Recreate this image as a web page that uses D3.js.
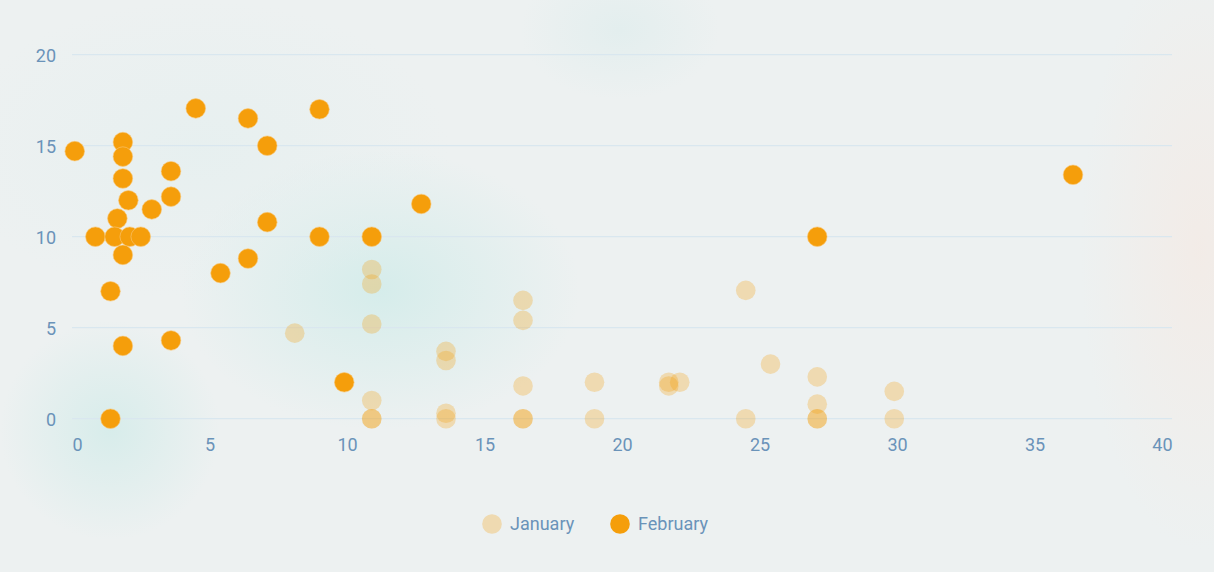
<!DOCTYPE html>
<html><head><meta charset="utf-8">
<script src="https://cdn.jsdelivr.net/npm/d3@7"></script>
<style>
html,body{margin:0;padding:0;background:#edf0f0;overflow:hidden}
svg{display:block}
text{font-family:Roboto,"Noto Sans",sans-serif}
</style></head><body>
<svg id="c" width="1214" height="572"></svg>
<script>
const seriesNames = ["January", "February"];
const januaryX = [8.1, 10.9, 10.9, 10.9, 10.9, 10.9, 10.9, 13.6, 13.6, 13.6, 13.6, 16.4, 16.4, 16.4, 16.4, 16.4, 19, 19, 21.7, 21.7, 22.1, 24.5, 24.5, 25.4, 27.1, 27.1, 27.1, 27.1, 29.9, 29.9];
const januaryY = [4.7, 8.2, 7.4, 5.2, 1, 0, 0, 3.7, 3.2, 0.3, 0, 6.5, 5.4, 1.8, 0, 0, 2, 0, 1.8, 2.0, 2.0, 7.05, 0, 3, 2.3, 0.8, 0, 0, 1.5, 0];
const februaryX = [0.1, 1.85, 1.85, 1.85, 2.05, 2.9, 3.6, 3.6, 4.5, 6.4, 9, 7.1, 1.65, 0.85, 1.55, 2.1, 2.5, 1.85, 7.1, 9, 10.9, 12.7, 6.4, 5.4, 1.4, 1.85, 3.6, 1.4, 9.9, 36.4, 27.1];
const februaryY = [14.7, 15.2, 14.4, 13.2, 12, 11.5, 13.6, 12.2, 17.05, 16.5, 17, 15, 11, 10, 10, 10, 10, 9, 10.8, 10, 10, 11.8, 8.8, 8, 7, 4, 4.3, 0, 2, 13.4, 10];
const xTicks = [0, 5, 10, 15, 20, 25, 30, 35, 40];
const yTicks = [0, 5, 10, 15, 20];

const svg = d3.select("#c");
const W = 1214, H = 572;
const defs = svg.append("defs");
function blob(id, color, op) {
  const g = defs.append("radialGradient").attr("id", id);
  g.append("stop").attr("offset", "0%").attr("stop-color", color).attr("stop-opacity", op);
  g.append("stop").attr("offset", "100%").attr("stop-color", color).attr("stop-opacity", 0);
}
blob("b1", "#d3ecea", 0.9);
blob("b2", "#d5ecea", 0.9);
blob("b3", "#dcecec", 0.6);
blob("b4", "#f3ebe6", 0.9);
blob("b5", "#e4efef", 0.7);
svg.append("rect").attr("width", W).attr("height", H).attr("fill", "#edf1f1");
svg.append("ellipse").attr("cx", 380).attr("cy", 290).attr("rx", 200).attr("ry", 140).attr("fill", "url(#b1)");
svg.append("ellipse").attr("cx", 110).attr("cy", 430).attr("rx", 110).attr("ry", 110).attr("fill", "url(#b2)");
svg.append("ellipse").attr("cx", 620).attr("cy", 30).attr("rx", 100).attr("ry", 70).attr("fill", "url(#b3)");
svg.append("ellipse").attr("cx", 1200).attr("cy", 250).attr("rx", 120).attr("ry", 300).attr("fill", "url(#b4)");
svg.append("ellipse").attr("cx", 200).attr("cy", 150).attr("rx", 250).attr("ry", 150).attr("fill", "url(#b5)");

const x = d3.scaleLinear().domain([0, 40]).range([72, 1172]);
const y = d3.scaleLinear().domain([0, 20]).range([418.7, 54.7]);
const labelColor = "#6a93b9";

// grid
svg.append("g").selectAll("line").data(yTicks).join("line")
  .attr("x1", x(0)).attr("x2", x(40))
  .attr("y1", d => y(d)).attr("y2", d => y(d))
  .attr("stroke", "#d9e7ef").attr("stroke-width", 1.2);

// y axis
const yAxis = svg.append("g").attr("transform", "translate(56,0)")
  .call(d3.axisLeft(y).tickValues(yTicks).tickSize(0).tickPadding(0));
yAxis.select(".domain").remove();
yAxis.selectAll("text").attr("fill", labelColor).attr("font-size", 18).attr("dy", "0.35em");

// x axis
const xAxis = svg.append("g").attr("transform", "translate(0,438)")
  .call(d3.axisBottom(x).tickValues(xTicks).tickSize(0).tickPadding(0));
xAxis.select(".domain").remove();
xAxis.selectAll("text").attr("fill", labelColor).attr("font-size", 18).attr("dy", "0.71em")
  .attr("text-anchor", d => d === 0 ? "start" : d === 40 ? "end" : "middle");

const orange = "#f59e0b";
const jan = januaryX.map((v, i) => ({x: v, y: januaryY[i]}));
const feb = februaryX.map((v, i) => ({x: v, y: februaryY[i]}));

svg.append("g").selectAll("circle").data(jan).join("circle")
  .attr("cx", d => x(d.x)).attr("cy", d => y(d.y)).attr("r", 9.8)
  .attr("fill", orange).attr("fill-opacity", 0.28);

svg.append("g").selectAll("circle").data(feb).join("circle")
  .attr("cx", d => x(d.x)).attr("cy", d => y(d.y)).attr("r", 9.8)
  .attr("fill", orange).attr("stroke", "#f8c77a").attr("stroke-width", 0.6);

// legend
const legendX = [492, 620];
const lg = svg.append("g");
seriesNames.forEach((name, i) => {
  lg.append("circle").attr("cx", legendX[i]).attr("cy", 524).attr("r", 9.8)
    .attr("fill", orange).attr("fill-opacity", i === 0 ? 0.28 : 1);
  lg.append("text").attr("x", legendX[i] + 18).attr("y", 524).attr("dy", "0.35em")
    .attr("fill", labelColor).attr("font-size", 18).text(name);
});
</script>
</body></html>
